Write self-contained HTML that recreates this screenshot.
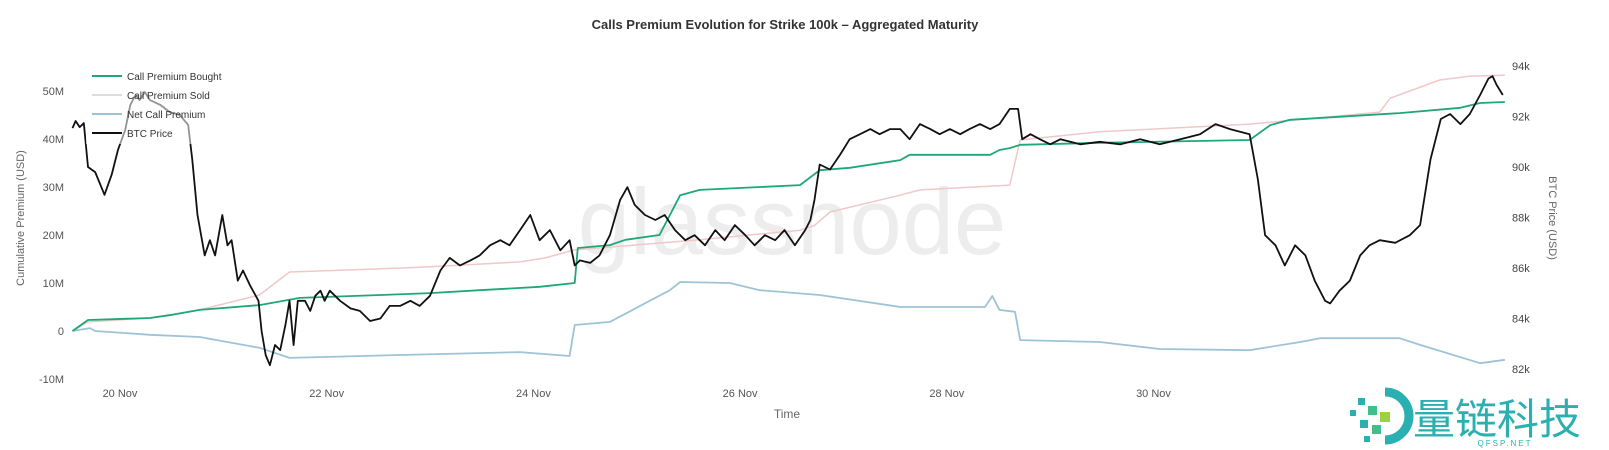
<!DOCTYPE html>
<html><head><meta charset="utf-8">
<style>
html,body{margin:0;padding:0;background:#fff;width:1609px;height:450px;overflow:hidden;font-family:"Liberation Sans",Arial,sans-serif}
svg text{font-family:"Liberation Sans",Arial,sans-serif}
</style></head>
<body>
<svg id="chart" width="1609" height="450" xmlns="http://www.w3.org/2000/svg">
  <text x="785" y="29" text-anchor="middle" font-size="13" font-weight="bold" fill="#333">Calls Premium Evolution for Strike 100k – Aggregated Maturity</text>
  <text x="792" y="254" text-anchor="middle" font-size="94" fill="#ededed">glassnode</text>
  <g id="grid"></g>
  <g id="series"></g>
  <g id="axes"></g>
  <rect x="86" y="64" width="150" height="80" fill="#fff" fill-opacity="0.55"/>
  <g font-size="10" fill="#333">
    <g><line x1="92" y1="76" x2="122" y2="76" stroke="#1fa77a" stroke-width="2"/><text x="127" y="80">Call Premium Bought</text></g>
    <g><line x1="92" y1="95" x2="122" y2="95" stroke="#ddd" stroke-width="2"/><text x="127" y="99">Call Premium Sold</text></g>
    <g><line x1="92" y1="114" x2="122" y2="114" stroke="#9ec3d6" stroke-width="2"/><text x="127" y="118">Net Call Premium</text></g>
    <g><line x1="92" y1="133" x2="122" y2="133" stroke="#111" stroke-width="2"/><text x="127" y="137">BTC Price</text></g>
  </g>
  <text transform="translate(24,218) rotate(-90)" text-anchor="middle" font-size="11" fill="#666">Cumulative Premium (USD)</text>
  <text transform="translate(1549,218) rotate(90)" text-anchor="middle" font-size="11" fill="#666">BTC Price (USD)</text>
  <text x="787" y="418" text-anchor="middle" font-size="12" fill="#666">Time</text>
  <g>
    <rect x="1330" y="378" width="279" height="72" fill="#fff"/>
    <path d="M1385 392 a24 24 0 1 1 0 48" fill="none" stroke="#2ab0b0" stroke-width="9"/>
    <rect x="1358" y="398" width="7" height="7" fill="#2ab0b0"/><rect x="1368" y="406" width="9" height="9" fill="#3fbf8a"/>
    <rect x="1350" y="410" width="6" height="6" fill="#2ab0b0"/><rect x="1380" y="412" width="10" height="10" fill="#9cd23c"/>
    <rect x="1360" y="420" width="8" height="8" fill="#2ab0b0"/><rect x="1372" y="425" width="9" height="9" fill="#3fbf8a"/>
    <rect x="1364" y="436" width="6" height="6" fill="#2ab0b0"/>
    <text x="1413" y="434" font-size="42" fill="#2ab0b0" style="font-family:'Noto Sans CJK SC',sans-serif">量链科技</text>
    <text x="1505" y="446" text-anchor="middle" font-size="8" fill="#2ab0b0" letter-spacing="2">QFSP.NET</text>
  </g>
</svg>
<script>
// time in days after 20 Nov 00:00; premium in millions USD; price in thousands USD
const btcDays=[-0.46,-0.43,-0.39,-0.35,-0.31,-0.24,-0.15,-0.08,-0.02,0.05,0.10,0.15,0.19,0.24,0.29,0.39,0.48,0.58,0.66,0.70,0.75,0.82,0.87,0.92,0.99,1.04,1.08,1.14,1.19,1.26,1.34,1.37,1.41,1.45,1.50,1.55,1.60,1.64,1.68,1.72,1.79,1.84,1.89,1.94,1.98,2.03,2.13,2.23,2.32,2.42,2.52,2.61,2.71,2.81,2.90,3.00,3.10,3.19,3.29,3.39,3.48,3.58,3.68,3.77,3.87,3.97,4.06,4.16,4.26,4.35,4.40,4.45,4.55,4.64,4.74,4.84,4.91,4.98,5.08,5.18,5.27,5.37,5.47,5.56,5.66,5.76,5.85,5.95,6.05,6.14,6.24,6.34,6.43,6.53,6.63,6.68,6.72,6.77,6.87,6.97,7.06,7.16,7.26,7.35,7.45,7.55,7.64,7.74,7.84,7.93,8.03,8.13,8.22,8.32,8.42,8.51,8.61,8.69,8.73,8.81,8.90,9.00,9.10,9.29,9.48,9.68,9.87,10.06,10.26,10.45,10.60,10.74,10.93,11.01,11.08,11.18,11.27,11.37,11.47,11.56,11.66,11.71,11.80,11.90,12.00,12.09,12.19,12.34,12.48,12.58,12.68,12.78,12.87,12.97,13.06,13.16,13.24,13.28,13.32,13.38];
const btcPrice=[91.54,91.82,91.58,91.74,90.0,89.8,88.9,89.7,90.67,91.47,92.46,92.85,92.65,92.97,92.65,92.46,92.18,92.06,91.66,90.28,88.1,86.5,87.1,86.5,88.1,86.9,87.1,85.5,85.9,85.3,84.7,83.5,82.55,82.15,82.95,82.75,83.74,84.7,82.95,84.7,84.7,84.3,84.9,85.1,84.7,85.1,84.7,84.4,84.3,83.9,84.0,84.5,84.5,84.7,84.5,84.9,85.9,86.4,86.1,86.3,86.5,86.9,87.1,86.9,87.5,88.1,87.1,87.5,86.7,87.1,86.1,86.3,86.2,86.5,87.3,88.7,89.2,88.5,88.1,87.9,88.1,87.5,87.1,87.3,86.9,87.5,87.1,87.7,87.3,86.9,87.3,87.1,87.5,86.9,87.5,87.9,88.7,90.1,89.9,90.5,91.1,91.3,91.5,91.3,91.5,91.5,91.1,91.7,91.5,91.3,91.5,91.3,91.5,91.7,91.5,91.7,92.3,92.3,91.1,91.3,91.1,90.9,91.1,90.9,91.0,90.9,91.1,90.9,91.1,91.3,91.7,91.5,91.3,89.5,87.3,86.9,86.1,86.9,86.5,85.5,84.7,84.6,85.1,85.5,86.5,86.9,87.1,87.0,87.3,87.7,90.3,91.9,92.1,91.7,92.1,92.85,93.5,93.6,93.25,92.85];
const boughtDays=[-0.46,-0.31,0.29,0.48,0.77,1.35,1.74,2.52,3.00,3.48,4.06,4.40,4.43,4.74,4.89,5.22,5.42,5.61,6.58,6.77,7.06,7.55,7.64,8.42,8.51,8.61,8.71,9.48,10.93,11.13,11.32,12.38,12.97,13.16,13.40];
const boughtValues=[0,2.3,2.7,3.3,4.4,5.4,6.9,7.5,7.9,8.5,9.2,10,17.3,17.9,19,20,28.3,29.4,30.4,33.5,34,35.6,36.7,36.7,37.7,38.1,38.8,39.2,39.8,42.9,44,45.4,46.5,47.5,47.7];
const soldDays=[-0.46,-0.31,0.29,0.77,1.35,1.64,2.71,3.10,3.87,4.11,4.40,5.61,6.58,6.72,6.87,7.55,7.74,8.61,8.71,9.48,10.93,12.19,12.29,12.77,13.06,13.40];
const soldValues=[0,1.9,2.7,4.4,7.5,12.3,13.1,13.5,14.4,15.2,16.9,19,21,22,24.8,28.3,29.4,30.4,39.8,41.5,43.1,45.6,48.5,52.3,53.1,53.3];
const netDays=[-0.46,-0.29,-0.24,0.29,0.77,1.35,1.64,2.71,3.87,4.35,4.40,4.74,5.32,5.42,5.90,6.19,6.77,7.55,8.37,8.44,8.51,8.66,8.71,9.48,10.06,10.93,11.42,11.61,12.38,12.58,13.16,13.40];
const netValues=[0,0.6,0,-0.8,-1.25,-3.5,-5.6,-5,-4.4,-5.2,1.25,1.9,8.5,10.2,10,8.5,7.5,5,5,7.3,4.4,4,-1.9,-2.3,-3.75,-4,-2.3,-1.5,-1.5,-2.9,-6.7,-6];
const leftTicks=[-10,0,10,20,30,40,50];
const leftTickLabels=["-10M","0","10M","20M","30M","40M","50M"];
const rightTicks=[82,84,86,88,90,92,94];
const rightTickLabels=["82k","84k","86k","88k","90k","92k","94k"];
const xTicks=[0,2,4,6,8,10,12];
const xTickLabels=["20 Nov","22 Nov","24 Nov","26 Nov","28 Nov","30 Nov","2 Dec"];

const NS="http://www.w3.org/2000/svg";
function xS(d){return 120+d*103.35;}
function yL(v){return 331-v*4.8;}
function yR(p){return 66+(94-p)*25.25;}
function mk(tag,attrs,parent){const e=document.createElementNS(NS,tag);for(const k in attrs)e.setAttribute(k,attrs[k]);parent.appendChild(e);return e;}
const axes=document.getElementById('axes'),series=document.getElementById('series');
leftTicks.forEach((v,i)=>{const t=mk('text',{x:64,y:yL(v)+4,'text-anchor':'end','font-size':11,fill:'#555'},axes);t.textContent=leftTickLabels[i];

});
rightTicks.forEach((v,i)=>{const t=mk('text',{x:1512,y:yR(v)+4,'font-size':11,fill:'#444'},axes);t.textContent=rightTickLabels[i];

});
xTicks.forEach((v,i)=>{const t=mk('text',{x:xS(v),y:397,'text-anchor':'middle','font-size':11,fill:'#555'},axes);t.textContent=xTickLabels[i];

});
function line(xs,ys,yf,color,w,name){const d=xs.map((x,i)=>(i?'L':'M')+xS(x).toFixed(1)+' '+yf(ys[i]).toFixed(1)).join(' ');
const p=mk('path',{d:d,fill:'none',stroke:color,'stroke-width':w,'stroke-linejoin':'round'},series);

}
line(soldDays,soldValues,yL,'#f0c8c8',1.5,'call-premium-sold-line');
line(netDays,netValues,yL,'#9ec3d6',1.8,'net-call-premium-line');
line(boughtDays,boughtValues,yL,'#1fa77a',1.8,'call-premium-bought-line');
line(btcDays,btcPrice,yR,'#111',1.8,'btc-price-line');
</script>
</body></html>
